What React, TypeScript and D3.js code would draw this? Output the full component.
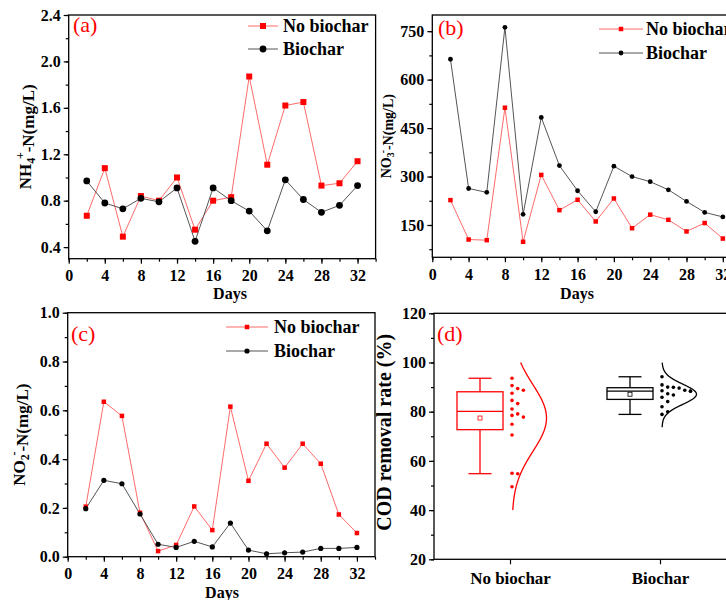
import React, { useEffect, useRef } from "react";
import * as d3 from "d3";

// sampling days
const days = [2, 4, 6, 8, 10, 12, 14, 16, 18, 20, 22, 24, 26, 28, 30, 32];

// (a) NH4+-N
const nh4NoBiochar = [0.67, 1.08, 0.49, 0.84, 0.8, 1.0, 0.55, 0.8, 0.83, 1.87, 1.11, 1.62, 1.65, 0.93, 0.95, 1.14];
const nh4Biochar = [0.97, 0.78, 0.73, 0.82, 0.79, 0.91, 0.45, 0.91, 0.8, 0.71, 0.54, 0.98, 0.81, 0.7, 0.76, 0.93];

// (b) NO3--N
const no3NoBiochar = [227, 105, 103, 513, 98, 305, 196, 228, 161, 232, 140, 182, 166, 130, 156, 108];
const no3Biochar = [663, 263, 251, 762, 183, 483, 334, 256, 191, 332, 300, 284, 259, 223, 189, 175];

// (c) NO2--N
const no2NoBiochar = [0.205, 0.635, 0.577, 0.18, 0.023, 0.048, 0.206, 0.109, 0.615, 0.311, 0.463, 0.365, 0.463, 0.381, 0.173, 0.097];
const no2Biochar = [0.197, 0.313, 0.299, 0.175, 0.051, 0.038, 0.063, 0.04, 0.138, 0.027, 0.012, 0.016, 0.019, 0.034, 0.034, 0.038];

// (d) COD removal rate
const codGroups = ["No biochar", "Biochar"];
const codNoBiochar = [93.6, 90.6, 87.5, 88.7, 89.4, 84.6, 83.3, 81.1, 78.5, 79.1, 77.8, 74.9, 70.5, 55.0, 54.8, 49.5];
const codBiochar = [94.2, 90.9, 89.9, 90.0, 88.5, 88.7, 89.6, 85.9, 86.8, 88.3, 87.3, 84.1, 82.0, 78.9, 80.0, 88.4];
const codCurveLow = [40, 73.7];
const codCurveHigh = [100, 100];

const seriesNames = ["No biochar", "Biochar"];

const FONT = "Liberation Serif";
const RED = "#ff0000";
const RED_LINE = "#ff6a6a";
const BLACK_LINE = "#555555";

type Sel = d3.Selection<SVGGElement, unknown, null, undefined>;

function styleAxis(g: Sel, size: number) {
  g.attr("font-family", FONT).attr("font-weight", 700).attr("font-size", size);
  g.select(".domain").remove();
  g.selectAll("line").attr("stroke", "#000").attr("stroke-width", 1.2);
  g.selectAll("text").attr("fill", "#000");
}

function axisTitle(g: Sel, x: number, y: number, size: number, sub: string | null, sup: string | null, head: string, tail: string) {
  const t = g
    .append("text")
    .attr("transform", `translate(${x},${y}) rotate(-90)`)
    .attr("text-anchor", "middle")
    .attr("font-family", FONT)
    .attr("font-weight", 700)
    .attr("font-size", size);
  t.append("tspan").text(head);
  if (sub) t.append("tspan").attr("dy", "0.3em").attr("font-size", size * 0.7).text(sub);
  if (sup) t.append("tspan").attr("dy", "-0.85em").attr("dx", "-0.1em").attr("font-size", size * 0.7).text(sup);
  t.append("tspan").attr("dy", sup ? "0.55em" : "-0.3em").text(tail);
}

function drawLinePanel(root: Sel, p: any) {
  const g = root.append("g");
  const x = d3.scaleLinear().domain([0, 34]).range([p.left, p.right]);
  const y = d3.scaleLinear().domain(p.yDomain).range([p.bottom, p.top]);

  // minor ticks
  styleAxis(
    g.append("g").attr("transform", `translate(0,${p.bottom})`)
      .call(d3.axisBottom(x).tickValues(d3.range(0, 34.01, 2)).tickSize(3).tickFormat(() => "")),
    15
  );
  styleAxis(
    g.append("g").attr("transform", `translate(${p.left},0)`)
      .call(d3.axisLeft(y).tickValues(p.yMinor).tickSize(3).tickFormat(() => "")),
    15
  );
  // major ticks
  styleAxis(
    g.append("g").attr("transform", `translate(0,${p.bottom})`)
      .call(d3.axisBottom(x).tickValues(d3.range(0, 32.01, 4)).tickSize(5).tickPadding(6).tickFormat(d3.format("d"))),
    16
  );
  styleAxis(
    g.append("g").attr("transform", `translate(${p.left},0)`)
      .call(d3.axisLeft(y).tickValues(p.yMajor).tickSize(5).tickPadding(3).tickFormat(d3.format(p.yFmt))),
    16
  );

  g.append("rect")
    .attr("x", p.left).attr("y", p.top)
    .attr("width", p.right - p.left).attr("height", p.bottom - p.top)
    .attr("fill", "none").attr("stroke", "#000").attr("stroke-width", 1.3);

  const line = d3.line<number>().x((_, i) => x(days[i])).y((v) => y(v));
  g.append("path").datum(p.red).attr("d", line).attr("fill", "none").attr("stroke", RED_LINE).attr("stroke-width", 1);
  g.append("path").datum(p.black).attr("d", line).attr("fill", "none").attr("stroke", BLACK_LINE).attr("stroke-width", 1);

  g.selectAll(".sq").data(p.red as number[]).join("rect")
    .attr("x", (_, i) => x(days[i]) - p.sq / 2).attr("y", (v) => y(v) - p.sq / 2)
    .attr("width", p.sq).attr("height", p.sq).attr("fill", RED);
  g.selectAll(".ci").data(p.black as number[]).join("circle")
    .attr("cx", (_, i) => x(days[i])).attr("cy", (v) => y(v)).attr("r", p.r).attr("fill", "#000");

  // legend
  const L = p.legend;
  seriesNames.forEach((name, i) => {
    const ly = L.y + i * L.gap;
    g.append("line").attr("x1", L.x1).attr("x2", L.x2).attr("y1", ly).attr("y2", ly)
      .attr("stroke", i === 0 ? RED_LINE : BLACK_LINE).attr("stroke-width", 1);
    const mx = (L.x1 + L.x2) / 2;
    if (i === 0) {
      g.append("rect").attr("x", mx - p.sq / 2).attr("y", ly - p.sq / 2).attr("width", p.sq).attr("height", p.sq).attr("fill", RED);
    } else {
      g.append("circle").attr("cx", mx).attr("cy", ly).attr("r", p.r).attr("fill", "#000");
    }
    g.append("text").attr("x", L.textX).attr("y", ly + 6).text(name)
      .attr("font-family", FONT).attr("font-weight", 700).attr("font-size", 18);
  });

  g.append("text").attr("x", p.labelX).attr("y", p.labelY).text(p.label)
    .attr("fill", RED).attr("font-family", FONT).attr("font-size", 22);

  g.append("text").attr("x", p.daysX).attr("y", p.daysY).attr("text-anchor", "middle").text("Days")
    .attr("font-family", FONT).attr("font-weight", 700).attr("font-size", 16);

  axisTitle(g, p.titleX, (p.top + p.bottom) / 2, p.titleSize, p.sub, p.sup, p.head, p.tail);
}

function tukey(vals: number[]) {
  const s = [...vals].sort(d3.ascending);
  const n = s.length;
  const lower = s.slice(0, Math.floor(n / 2));
  const upper = s.slice(Math.ceil(n / 2));
  const q1 = d3.median(lower) as number;
  const q3 = d3.median(upper) as number;
  const iqr = q3 - q1;
  const lo = s.find((v) => v >= q1 - 1.5 * iqr) as number;
  const hi = [...s].reverse().find((v) => v <= q3 + 1.5 * iqr) as number;
  return { q1, q3, med: d3.median(s) as number, lo, hi, mean: d3.mean(s) as number };
}

function swarm(vals: number[], y: (v: number) => number, gap: number, maxCols: number) {
  const order = d3.range(vals.length).sort((a, b) => vals[b] - vals[a]);
  const cols: number[][] = [];
  const out: number[] = new Array(vals.length);
  for (const i of order) {
    const py = y(vals[i]);
    let c = 0;
    while (c < maxCols - 1 && cols[c] && cols[c].some((q) => Math.abs(q - py) < gap)) c++;
    (cols[c] = cols[c] || []).push(py);
    out[i] = c;
  }
  return out;
}

function drawBoxPanel(root: Sel) {
  const left = 434, right = 790, top = 313.3, bottom = 559.3;
  const g = root.append("g");
  const y = d3.scaleLinear().domain([20, 120]).range([bottom, top]);
  const x = d3.scalePoint<string>().domain(codGroups).range([510, 660]);

  styleAxis(
    g.append("g").attr("transform", `translate(${left},0)`)
      .call(d3.axisLeft(y).tickValues(d3.range(20, 120.1, 10)).tickSize(3).tickFormat(() => "")),
    15
  );
  styleAxis(
    g.append("g").attr("transform", `translate(${left},0)`)
      .call(d3.axisLeft(y).tickValues(d3.range(20, 120.1, 20)).tickSize(5).tickPadding(3).tickFormat(d3.format("d"))),
    16
  );
  styleAxis(
    g.append("g").attr("transform", `translate(0,${bottom})`)
      .call(d3.axisBottom(x).tickSize(5).tickPadding(8)),
    17
  );

  g.append("rect").attr("x", left).attr("y", top).attr("width", right - left).attr("height", bottom - top)
    .attr("fill", "none").attr("stroke", "#000").attr("stroke-width", 1.3);

  const sets = [codNoBiochar, codBiochar];
  codGroups.forEach((name, gi) => {
    const vals = sets[gi];
    const color = gi === 0 ? RED : "#000";
    const cx = (x(name) as number) - 30;
    const st = tukey(vals);
    const bw = 46, cw = 23;
    const box = g.append("g").attr("stroke", color).attr("stroke-width", 1.3).attr("fill", "none");
    box.append("line").attr("x1", cx).attr("x2", cx).attr("y1", y(st.hi)).attr("y2", y(st.q3));
    box.append("line").attr("x1", cx).attr("x2", cx).attr("y1", y(st.q1)).attr("y2", y(st.lo));
    box.append("line").attr("x1", cx - cw / 2).attr("x2", cx + cw / 2).attr("y1", y(st.hi)).attr("y2", y(st.hi));
    box.append("line").attr("x1", cx - cw / 2).attr("x2", cx + cw / 2).attr("y1", y(st.lo)).attr("y2", y(st.lo));
    box.append("rect").attr("x", cx - bw / 2).attr("y", y(st.q3)).attr("width", bw).attr("height", y(st.q1) - y(st.q3));
    box.append("line").attr("x1", cx - bw / 2).attr("x2", cx + bw / 2).attr("y1", y(st.med)).attr("y2", y(st.med));
    box.append("rect").attr("x", cx - 2).attr("y", y(st.mean) - 2).attr("width", 4).attr("height", 4).attr("stroke-width", 0.8);

    // data points
    const base = (x(name) as number) + 2;
    const cols = swarm(vals, y, 5.8, 6);
    g.selectAll(".pt" + gi).data(vals).join("circle")
      .attr("cx", (_, i) => base + cols[i] * 5.7).attr("cy", (v) => y(v)).attr("r", 1.8).attr("fill", color);

    // normal curve
    const sd = d3.deviation(vals) as number;
    const ys = d3.range(codCurveLow[gi], codCurveHigh[gi] + 0.01, 0.25);
    const curve = d3.line<number>()
      .x((v) => base + 34.5 * Math.exp(-0.5 * ((v - st.mean) / sd) ** 2))
      .y((v) => y(v))
      .curve(d3.curveBasis);
    g.append("path").datum(ys).attr("d", curve).attr("fill", "none").attr("stroke", color).attr("stroke-width", 1.3);
  });

  g.append("text").attr("x", 437).attr("y", 341).text("(d)")
    .attr("fill", RED).attr("font-family", FONT).attr("font-size", 22);
  axisTitle(g, 391, (top + bottom) / 2 - 4, 20, null, null, "COD removal rate (%)", "");
}

export default function App() {
  const ref = useRef<SVGSVGElement>(null);

  useEffect(() => {
    const svg = d3.select(ref.current);
    svg.selectAll("*").remove();
    const root = svg.append("g") as unknown as Sel;

    drawLinePanel(root, {
      left: 68.7, right: 375.6, top: 15, bottom: 258.7,
      yDomain: [0.3, 2.4], yMajor: d3.range(0.4, 2.41, 0.4), yMinor: d3.range(0.4, 2.41, 0.2), yFmt: ".1f",
      red: nh4NoBiochar, black: nh4Biochar, sq: 6, r: 3.4,
      legend: { x1: 248, x2: 278, y: 26, gap: 23, textX: 283 },
      label: "(a)", labelX: 73, labelY: 32,
      daysX: 230, daysY: 299,
      titleX: 31, titleSize: 17, head: "NH", sub: "4", sup: "+", tail: "-N(mg/L)",
    });

    drawLinePanel(root, {
      left: 432.3, right: 741, top: 15, bottom: 257.3,
      yDomain: [50, 800], yMajor: d3.range(150, 751, 150), yMinor: d3.range(75, 800, 75), yFmt: "d",
      red: no3NoBiochar, black: no3Biochar, sq: 4.5, r: 2.4,
      legend: { x1: 599, x2: 643, y: 29, gap: 24, textX: 646 },
      label: "(b)", labelX: 438, labelY: 35,
      daysX: 577, daysY: 299,
      titleX: 391, titleSize: 14, head: "NO", sub: "3", sup: "-", tail: "-N(mg/L)",
    });

    drawLinePanel(root, {
      left: 67.7, right: 375, top: 312.7, bottom: 556.7,
      yDomain: [0, 1], yMajor: d3.range(0, 1.01, 0.2), yMinor: d3.range(0, 1.01, 0.1), yFmt: ".1f",
      red: no2NoBiochar, black: no2Biochar, sq: 4.5, r: 2.6,
      legend: { x1: 226, x2: 268, y: 327, gap: 24, textX: 274 },
      label: "(c)", labelX: 71, labelY: 341,
      daysX: 222, daysY: 598,
      titleX: 25, titleSize: 17, head: "NO", sub: "2", sup: "-", tail: "-N(mg/L)",
    });

    drawBoxPanel(root);
  }, []);

  return (
    <svg
      ref={ref}
      width={726}
      height={600}
      style={{ position: "absolute", left: 0, top: 0, background: "#fff" }}
    />
  );
}
